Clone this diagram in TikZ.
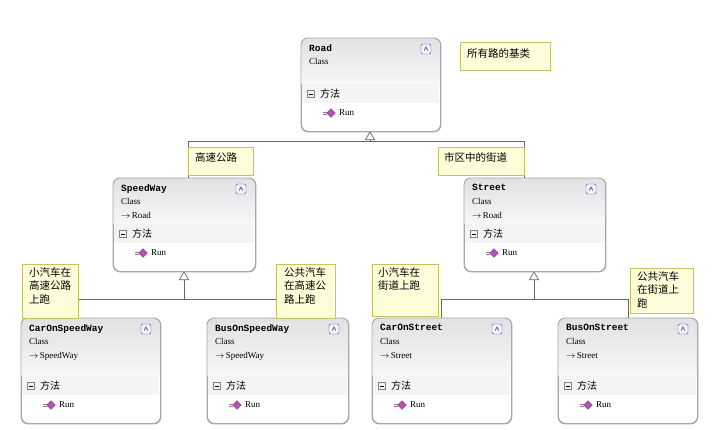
\documentclass[tikz,border=0pt]{standalone}
\usepackage{fontspec}
\setmainfont{Liberation Serif}
\newfontfamily\cjk{Noto Sans CJK SC}
\newfontfamily\monof{Liberation Mono}
\usetikzlibrary{arrows.meta}
\tikzset{
  cbox/.style={draw=gray!70, line width=0.9pt, rounded corners=7pt, anchor=north west, inner sep=0pt},
  note/.style={draw=gray!50!yellow, fill=yellow!15, anchor=north west, inner sep=0pt},
  ntext/.style={font=\cjk\fontsize{10.5}{13.5}\selectfont, anchor=north west, align=left, inner sep=0pt},
  con/.style={draw=gray!80!black, line width=0.7pt},
  inh/.style={con, -{Triangle[open,width=10pt,length=9pt]}},
  small/.style={anchor=north west, inner sep=0pt, font=\fontsize{9}{10}\selectfont},
}
% #1 name #2 x #3 y #4 w #5 title #6 parent (empty for none) #7 height
\newcommand{\classbox}[7]{%
  \node[cbox, minimum width=#4pt, minimum height=#7pt, fill=white] (#1) at (#2,#3) {};
  \shade[top color=blue!6!gray!22, bottom color=blue!3!gray!6] (#2,#3+#7-47) [rounded corners=7pt] -- (#2,#3) -- (#2+#4,#3) [sharp corners] -- (#2+#4,#3+#7-47) -- cycle;
  \fill[gray!9] (#2+1,#3+#7-47) rectangle (#2+#4-1,#3+#7-28);
  \draw[gray!70, line width=0.9pt, rounded corners=7pt] (#1.north west) rectangle (#1.south east);
  \node[small, font=\monof\bfseries\fontsize{9.5}{10}\selectfont] (#1t) at (#2+8,#3+6) {#5};
  \node[small] (#1c) at (#2+8,#3+20) {Class};
  \ifx&#6&\else
  \node[small] (#1p) at (#2+8,#3+34) {$\rightarrow$\,#6};
  \fi
  \node[draw=gray!60!blue, fill=blue!5, rounded corners=1.5pt, minimum size=10pt, inner sep=0pt, font=\fontsize{6}{3}\selectfont, align=center] (#1b) at (#2+#4-14,#3+11) {$\wedge$\\[-3pt]$\wedge$};
  \node[draw=gray, minimum size=7pt, inner sep=0pt, line width=0.5pt] (#1sq) at (#2+10,#3+#7-37) {};
  \draw[line width=0.5pt] (#1sq.west)++(1.5pt,0) -- ++(4pt,0);
  \node[anchor=west, inner sep=0pt, font=\cjk\fontsize{10}{10}\selectfont] (#1m) at (#2+19,#3+#7-37) {方法};
  \draw[violet!60, line width=0.5pt] (#2+22,#3+#7-19) -- ++(4,0) (#2+22,#3+#7-17) -- ++(4,0);
  \node[fill=violet!65, draw=violet!80, minimum size=6pt, inner sep=0pt, rotate=45] (#1i) at (#2+30,#3+#7-18) {};
  \node[anchor=west, inner sep=0pt, font=\fontsize{9}{10}\selectfont] (#1r) at (#2+38,#3+#7-18) {Run};
}
\begin{document}
\begin{tikzpicture}[x=1pt,y=-1pt]
\useasboundingbox (0,0) rectangle (727,429);
% connectors
\coordinate (j1) at (370,141);
\coordinate (j2) at (184,299);
\coordinate (j3) at (534,299);
\draw[con] (188,178) -- (188,141) -- (524,141) -- (524,178);
\draw[inh] (j1) -- (370,131);
\draw[con] (78,318) -- (78,299) -- (276,299) -- (276,318);
\draw[inh] (j2) -- (184,271);
\draw[con] (441,318) -- (441,299) -- (628,299) -- (628,318);
\draw[inh] (j3) -- (534,271);
% boxes
\classbox{road}{301}{38}{139}{Road}{}{93}
\classbox{sw}{113}{178}{142}{SpeedWay}{Road}{93}
\classbox{st}{464}{178}{141}{Street}{Road}{93}
\classbox{csw}{21}{318}{139}{CarOnSpeedWay}{SpeedWay}{105}
\classbox{bsw}{207}{318}{141}{BusOnSpeedWay}{SpeedWay}{105}
\classbox{cst}{372}{318}{139}{CarOnStreet}{Street}{105}
\classbox{bst}{558}{318}{139}{BusOnStreet}{Street}{105}
% notes
\node[note, minimum width=90pt, minimum height=28pt] (n1) at (460,42) {};
\node[ntext] at (467,48) {所有路的基类};
\node[note, minimum width=65pt, minimum height=28pt] (n2) at (188,147) {};
\node[ntext] at (195,152) {高速公路};
\node[note, minimum width=86pt, minimum height=28pt] (n3) at (438,147) {};
\node[ntext] at (444,152) {市区中的街道};
\node[note, minimum width=56pt, minimum height=54pt] (n4) at (22,264) {};
\node[ntext] at (29,267) {小汽车在\\高速公路\\上跑};
\node[note, minimum width=59pt, minimum height=54pt] (n5) at (276,264) {};
\node[ntext] at (284,267) {公共汽车\\在高速公\\路上跑};
\node[note, minimum width=66pt, minimum height=52pt] (n6) at (372,264) {};
\node[ntext] at (378,267) {小汽车在\\街道上跑};
\node[note, minimum width=63pt, minimum height=45pt] (n7) at (630,268) {};
\node[ntext] at (637,271) {公共汽车\\在街道上\\跑};
\end{tikzpicture}
\end{document}
